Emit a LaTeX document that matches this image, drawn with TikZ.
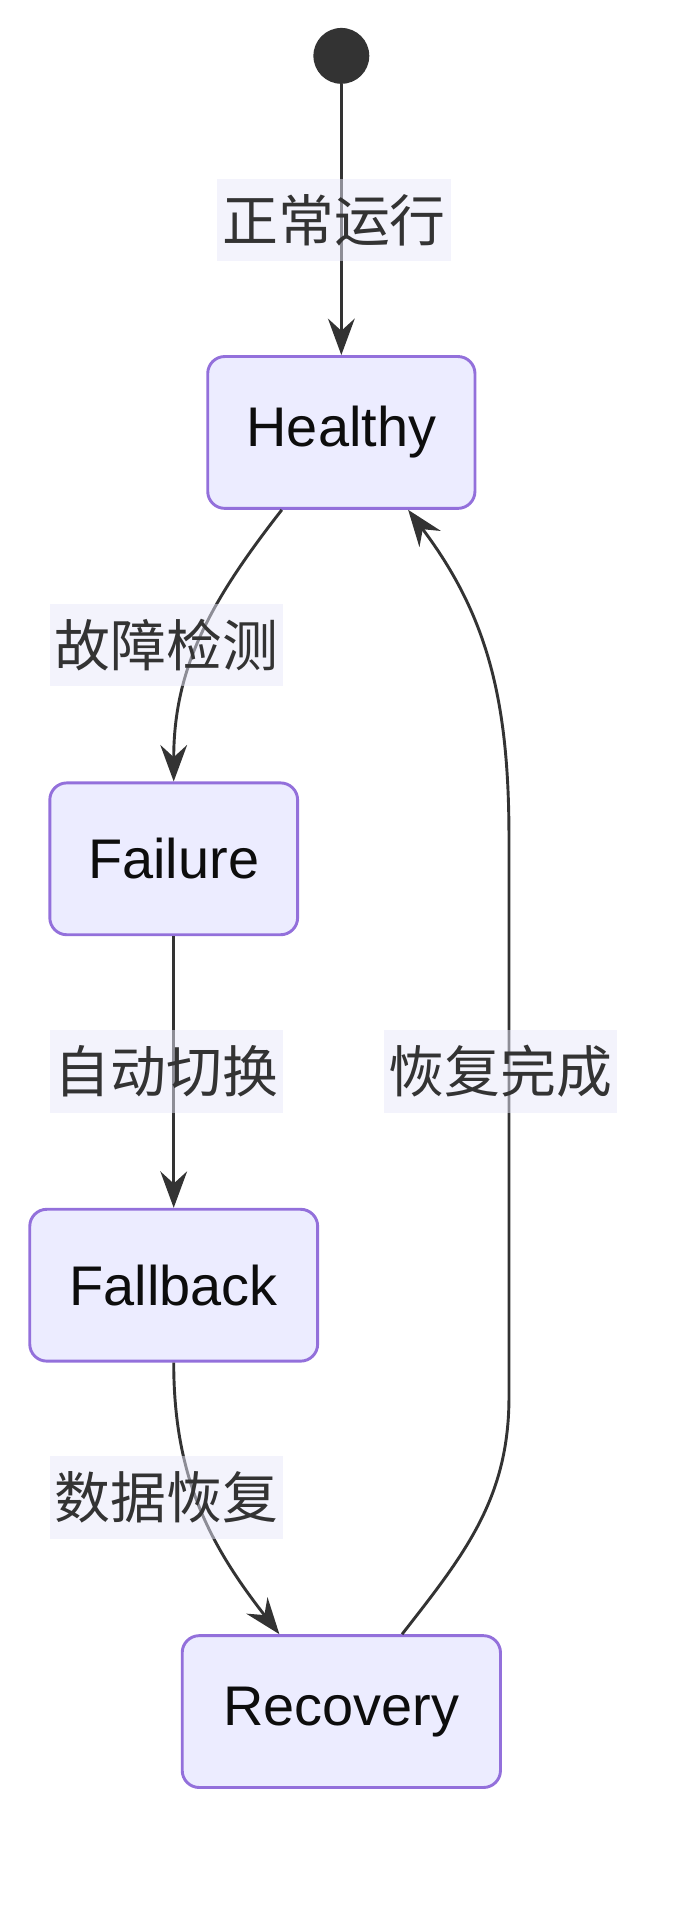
\documentclass[tikz,border=0pt]{standalone}
\usepackage{fontspec}
\setmainfont{Liberation Sans}
\newfontfamily\cjk{Noto Sans CJK SC}
\usetikzlibrary{arrows.meta,positioning,calc}
\definecolor{stateFill}{RGB}{236,236,255}
\definecolor{stateLine}{RGB}{147,112,219}
\definecolor{edgeLine}{RGB}{51,51,51}
\definecolor{labelFill}{RGB}{232,232,250}

\begin{document}
\begin{tikzpicture}[x=0.5pt, y=-0.5pt,
    state/.style={draw=stateLine, fill=stateFill, line width=1.2pt, rounded corners=7pt,
        minimum height=62.5pt, font=\fontsize{23}{27}\selectfont, text=black!95},
    lbl/.style={fill=labelFill, fill opacity=0.5, text opacity=1, text=edgeLine,
        inner sep=2pt, minimum height=34pt, font=\cjk\fontsize{23}{27}\selectfont},
    arrow/.style={-{Stealth[length=15pt, width=11pt, inset=5pt]}, line width=1.2pt, draw=edgeLine}
]
\useasboundingbox (0,0) rectangle (573,1574);

% start point
\node[circle, fill=edgeLine, minimum size=23pt, inner sep=0pt] (start) at (281,46) {};

% states
\node[state, minimum width=110pt] (healthy) at (281,356) {Healthy};
\node[state, minimum width=102pt] (failure) at (143,707) {Failure};
\node[state, minimum width=118.5pt] (fallback) at (143,1058) {Fallback};
\node[state, minimum width=131pt] (recovery) at (281,1409) {Recovery};

% transitions
\draw[arrow] (start) -- (healthy);
\draw[arrow] ($(healthy.south)+(-49,0)$) to[out=-128, in=90] (failure.north);
\draw[arrow] (failure) -- (fallback);
\draw[arrow] (fallback.south) to[out=-90, in=128] ($(recovery.north)+(-51,0)$);
\draw[arrow] ($(recovery.north)+(50,0)$) to[out=52, in=-90] (419,1150) -- (419,690)
    to[out=90, in=-53] ($(healthy.south)+(55,0)$);

% labels
\node[lbl] (l1) at (275,181) {正常运行};
\node[lbl] (l2) at (137,531) {故障检测};
\node[lbl] (l3) at (137,882) {自动切换};
\node[lbl] (l4) at (412,882) {恢复完成};
\node[lbl] (l5) at (137,1233) {数据恢复};
\end{tikzpicture}
\end{document}
